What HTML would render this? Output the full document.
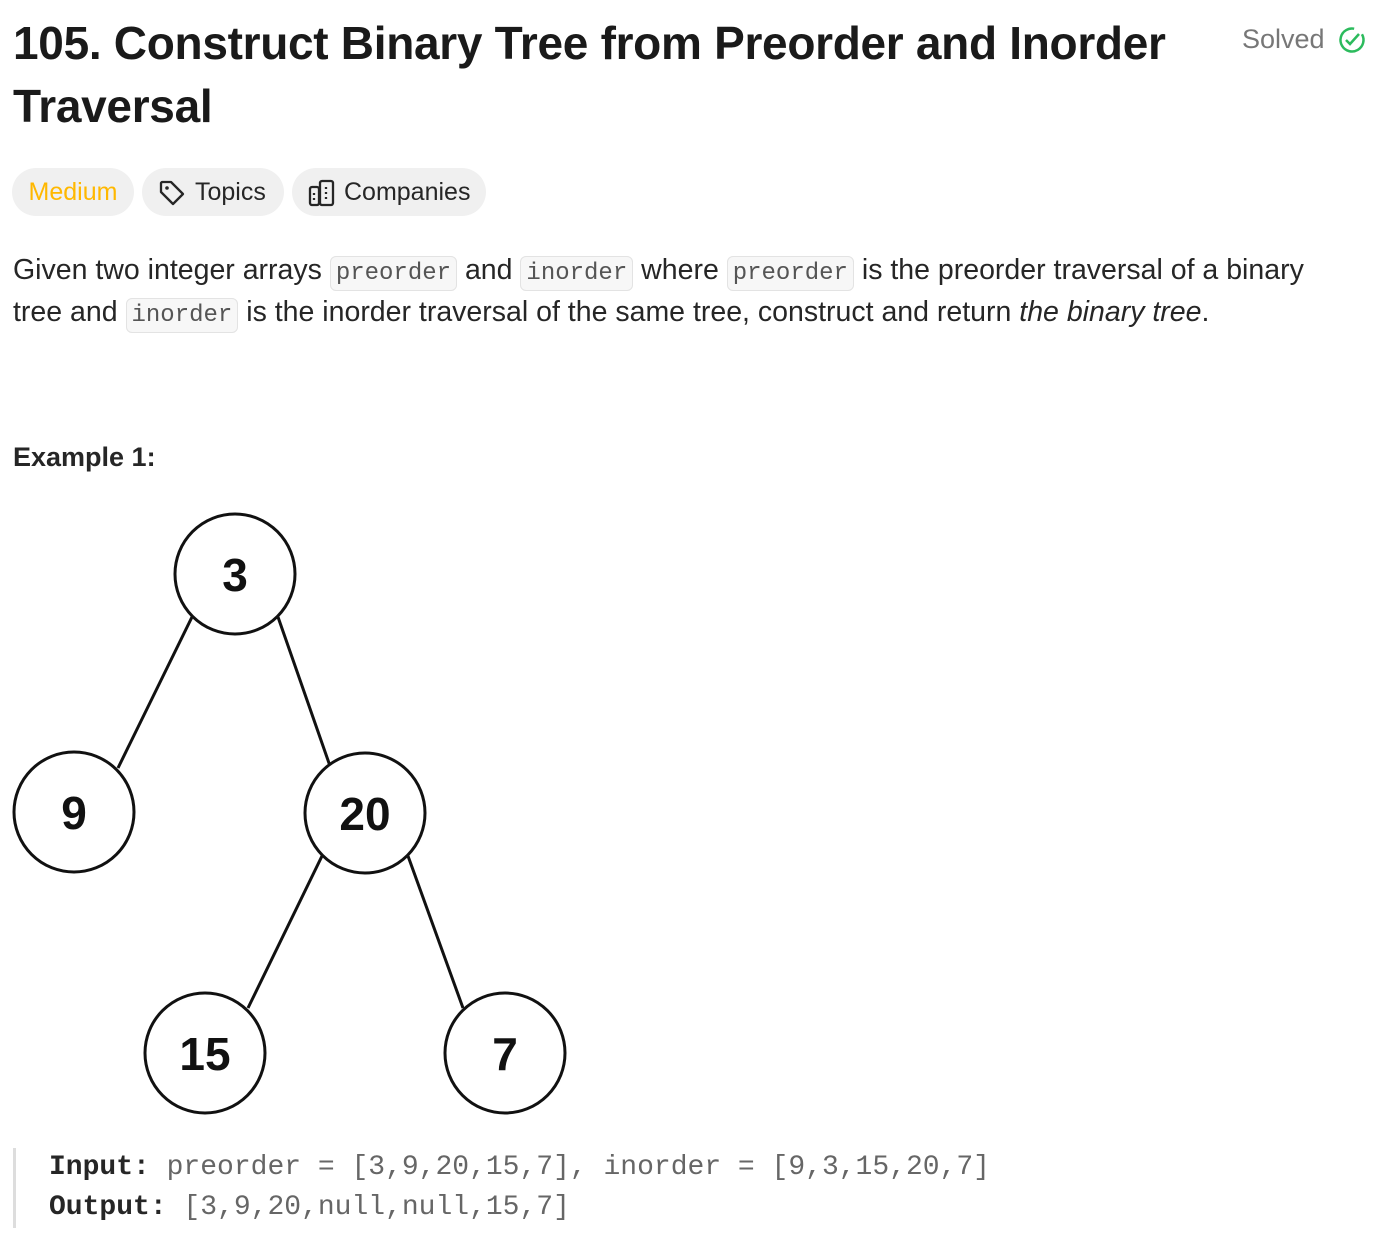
<!DOCTYPE html>
<html><head><style>
body{margin:0;width:1378px;height:1248px;background:#fff;font-family:"Liberation Sans",sans-serif;color:#262626;position:relative;overflow:hidden}
.a{position:absolute;white-space:nowrap}
h1{position:absolute;left:13px;top:12px;margin:0;font-size:46px;line-height:63px;font-weight:bold;color:#1a1a1a;letter-spacing:-0.3px;width:1200px}
.pill{position:absolute;top:168px;height:48px;border-radius:24px;background:#f0f0f0;font-size:25px;line-height:48px;color:#262626}
code{font-family:"Liberation Mono",monospace;font-size:24px;line-height:1;background:#f7f7f7;border:1px solid #e3e3e3;border-radius:6px;padding:3px 5px;color:#555}
.p{position:absolute;left:13px;top:249px;font-size:28.5px;line-height:42px;width:1330px;color:#262626}
pre{position:absolute;left:13px;top:1148px;margin:0;border-left:3px solid #ddd;padding-left:33px;font-family:"Liberation Mono",monospace;font-size:28px;line-height:40px;color:#666}
pre b{color:#262626}
</style></head><body>
<h1>105. Construct Binary Tree from Preorder and Inorder Traversal</h1>
<div class="a" style="left:1242px;top:24px;font-size:27px;color:#777">Solved</div>
<svg class="a" style="left:1338px;top:26px" width="28" height="28" viewBox="0 0 28 28"><circle cx="14" cy="14" r="11.5" fill="none" stroke="#2cbb5d" stroke-width="2.5" stroke-dasharray="62 10" transform="rotate(-30 14 14)"/><path d="M8 14l4 4 9-10" fill="none" stroke="#2cbb5d" stroke-width="2.5"/></svg>
<div class="pill" style="left:12px;width:122px;color:#ffb800;text-align:center">Medium</div>
<div class="pill" style="left:142px;width:142px"><svg style="position:absolute;left:16px;top:11px" width="28" height="28" viewBox="0 0 28 28"><path d="M3 4v9l12 12 10-10L13 3H4z" fill="none" stroke="#262626" stroke-width="2.3" stroke-linejoin="round"/><circle cx="9" cy="9" r="1.8" fill="#262626"/></svg><span style="position:absolute;left:53px">Topics</span></div>
<div class="pill" style="left:292px;width:194px"><svg style="position:absolute;left:16px;top:10px" width="28" height="30" viewBox="0 0 28 30"><rect x="2" y="9" width="9" height="18" rx="2" fill="none" stroke="#262626" stroke-width="2.3"/><rect x="12" y="3" width="13" height="24" rx="2" fill="none" stroke="#262626" stroke-width="2.3"/><path d="M18 9v2M18 14v2M18 19v2M6 15v2M6 20v2" stroke="#262626" stroke-width="2.3"/></svg><span style="position:absolute;left:52px">Companies</span></div>
<div class="p">Given two integer arrays <code>preorder</code> and <code>inorder</code> where <code>preorder</code> is the preorder traversal of a binary tree and <code>inorder</code> is the inorder traversal of the same tree, construct and return <i>the binary tree</i>.</div>
<div class="a" style="left:13px;top:442px;font-size:27px;font-weight:bold;color:#262626">Example 1:</div>
<svg class="a" style="left:0;top:500px" width="600" height="630" viewBox="0 500 600 630">
<g stroke="#111" stroke-width="3" fill="none">
<line x1="192" y1="617" x2="118" y2="768"/><line x1="278" y1="617" x2="330" y2="766"/>
<line x1="322" y1="856" x2="248" y2="1008"/><line x1="408" y1="856" x2="463" y2="1008"/>
<circle cx="235" cy="574" r="60" fill="#fff"/><circle cx="74" cy="812" r="60" fill="#fff"/><circle cx="365" cy="813" r="60" fill="#fff"/><circle cx="205" cy="1053" r="60" fill="#fff"/><circle cx="505" cy="1053" r="60" fill="#fff"/>
</g>
<g font-family="Liberation Sans,sans-serif" font-weight="bold" font-size="46" fill="#111" text-anchor="middle">
<text x="235" y="591">3</text><text x="74" y="829">9</text><text x="365" y="830">20</text><text x="205" y="1070">15</text><text x="505" y="1070">7</text>
</g></svg>
<pre><b>Input:</b> preorder = [3,9,20,15,7], inorder = [9,3,15,20,7]
<b>Output:</b> [3,9,20,null,null,15,7]</pre>
</body></html>
